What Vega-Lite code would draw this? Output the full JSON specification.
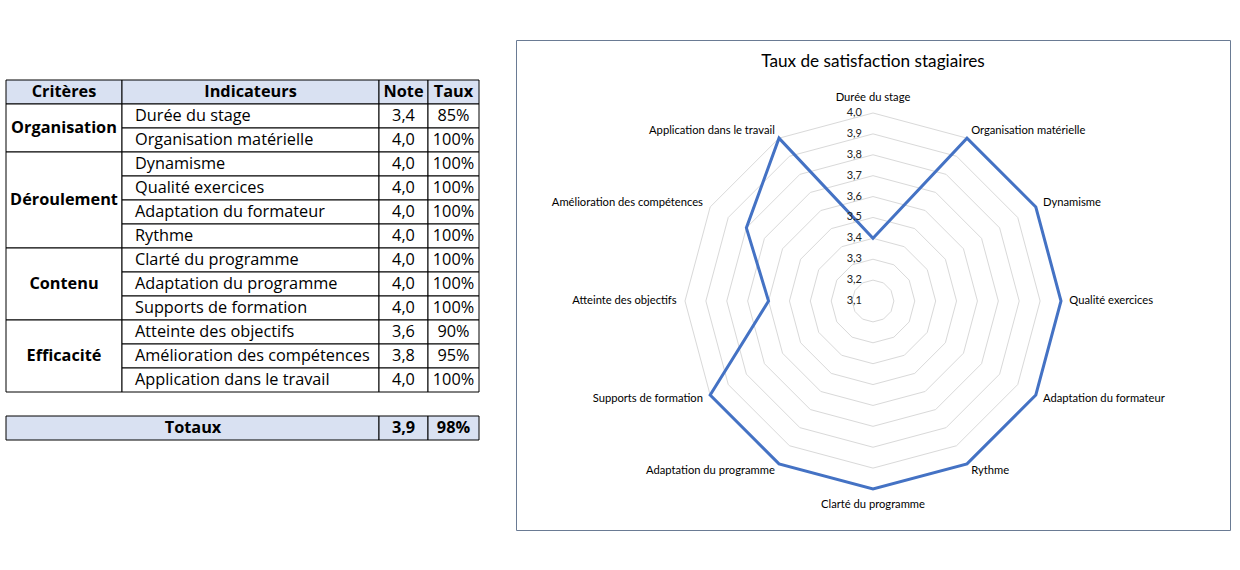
{
  "$schema": "https://vega.github.io/schema/vega-lite/v6.json",
  "background": "white",
  "padding": {"left": 5, "top": 39, "right": 5, "bottom": 30},
  "bounds": "flush",
  "spacing": 37,
  "datasets": {
    "notes": [
      {"rang": 0, "critere": "Organisation", "indicateur": "Durée du stage", "note": 3.4, "taux": 0.85},
      {"rang": 1, "critere": "Organisation", "indicateur": "Organisation matérielle", "note": 4.0, "taux": 1},
      {"rang": 2, "critere": "Déroulement", "indicateur": "Dynamisme", "note": 4.0, "taux": 1},
      {"rang": 3, "critere": "Déroulement", "indicateur": "Qualité exercices", "note": 4.0, "taux": 1},
      {"rang": 4, "critere": "Déroulement", "indicateur": "Adaptation du formateur", "note": 4.0, "taux": 1},
      {"rang": 5, "critere": "Déroulement", "indicateur": "Rythme", "note": 4.0, "taux": 1},
      {"rang": 6, "critere": "Contenu", "indicateur": "Clarté du programme", "note": 4.0, "taux": 1},
      {"rang": 7, "critere": "Contenu", "indicateur": "Adaptation du programme", "note": 4.0, "taux": 1},
      {"rang": 8, "critere": "Contenu", "indicateur": "Supports de formation", "note": 4.0, "taux": 1},
      {"rang": 9, "critere": "Efficacité", "indicateur": "Atteinte des objectifs", "note": 3.6, "taux": 0.9},
      {"rang": 10, "critere": "Efficacité", "indicateur": "Amélioration des compétences", "note": 3.8, "taux": 0.95},
      {"rang": 11, "critere": "Efficacité", "indicateur": "Application dans le travail", "note": 4.0, "taux": 1}
    ],
    "entetes": [
      {"col": 0, "texte": "Critères"},
      {"col": 1, "texte": "Indicateurs"},
      {"col": 2, "texte": "Note"},
      {"col": 3, "texte": "Taux"}
    ],
    "totaux": [{"texte": "Totaux", "note": 3.9, "taux": 0.98}],
    "echelle": [
      {"niveau": 3.1, "rangs": [0,1,2,3,4,5,6,7,8,9,10,11]},
      {"niveau": 3.2, "rangs": [0,1,2,3,4,5,6,7,8,9,10,11]},
      {"niveau": 3.3, "rangs": [0,1,2,3,4,5,6,7,8,9,10,11]},
      {"niveau": 3.4, "rangs": [0,1,2,3,4,5,6,7,8,9,10,11]},
      {"niveau": 3.5, "rangs": [0,1,2,3,4,5,6,7,8,9,10,11]},
      {"niveau": 3.6, "rangs": [0,1,2,3,4,5,6,7,8,9,10,11]},
      {"niveau": 3.7, "rangs": [0,1,2,3,4,5,6,7,8,9,10,11]},
      {"niveau": 3.8, "rangs": [0,1,2,3,4,5,6,7,8,9,10,11]},
      {"niveau": 3.9, "rangs": [0,1,2,3,4,5,6,7,8,9,10,11]},
      {"niveau": 4.0, "rangs": [0,1,2,3,4,5,6,7,8,9,10,11]}
    ]
  },
  "hconcat": [
    {
      "width": 473,
      "height": 490,
      "layer": [
        {
          "data": {"name": "entetes"},
          "transform": [{"calculate": "datum.col + 1", "as": "c1"}],
          "mark": {"type": "rect", "fill": "#D9E1F2", "stroke": "#000", "strokeWidth": 1},
          "encoding": {
            "x": {"field": "col", "type": "quantitative", "scale": {"domain": [0, 1, 2, 3, 4], "range": [0, 116, 373, 422, 473], "nice": false, "zero": false}, "axis": null},
            "x2": {"field": "c1"},
            "y": {"datum": 0, "type": "quantitative", "scale": {"domain": [0, 15], "range": [40, 400], "nice": false, "zero": false}, "axis": null},
            "y2": {"datum": 1}
          }
        },
        {
          "data": {"name": "entetes"},
          "transform": [{"calculate": "datum.col + 0.5", "as": "cm"}],
          "mark": {"type": "text", "font": "Open Sans", "fontSize": 16.3, "fontWeight": "bold", "color": "#000", "align": "center", "baseline": "middle"},
          "encoding": {
            "x": {"field": "cm", "type": "quantitative"},
            "y": {"datum": 0.5, "type": "quantitative"},
            "text": {"field": "texte"}
          }
        },
        {
          "data": {"name": "notes"},
          "transform": [
            {"aggregate": [{"op": "min", "field": "rang", "as": "rmin"}, {"op": "max", "field": "rang", "as": "rmax"}], "groupby": ["critere"]},
            {"calculate": "datum.rmin + 1", "as": "r0"},
            {"calculate": "datum.rmax + 2", "as": "r1"},
            {"calculate": "(datum.r0 + datum.r1) / 2", "as": "rm"}
          ],
          "layer": [
            {
              "mark": {"type": "rect", "fill": "white", "stroke": "#000", "strokeWidth": 1},
              "encoding": {
                "x": {"datum": 0, "type": "quantitative"},
                "x2": {"datum": 1},
                "y": {"field": "r0", "type": "quantitative"},
                "y2": {"field": "r1"}
              }
            },
            {
              "mark": {"type": "text", "font": "Open Sans", "fontSize": 16.3, "fontWeight": "bold", "color": "#000", "align": "center", "baseline": "middle"},
              "encoding": {
                "x": {"datum": 0.5, "type": "quantitative"},
                "y": {"field": "rm", "type": "quantitative"},
                "text": {"field": "critere"}
              }
            }
          ]
        },
        {
          "data": {"name": "notes"},
          "transform": [
            {"calculate": "datum.rang + 1", "as": "r0"},
            {"calculate": "datum.rang + 2", "as": "r1"},
            {"calculate": "datum.rang + 1.5", "as": "rm"}
          ],
          "layer": [
            {
              "mark": {"type": "rect", "fill": "white", "stroke": "#000", "strokeWidth": 1},
              "encoding": {"x": {"datum": 1, "type": "quantitative"}, "x2": {"datum": 2}, "y": {"field": "r0", "type": "quantitative"}, "y2": {"field": "r1"}}
            },
            {
              "mark": {"type": "rect", "fill": "white", "stroke": "#000", "strokeWidth": 1},
              "encoding": {"x": {"datum": 2, "type": "quantitative"}, "x2": {"datum": 3}, "y": {"field": "r0", "type": "quantitative"}, "y2": {"field": "r1"}}
            },
            {
              "mark": {"type": "rect", "fill": "white", "stroke": "#000", "strokeWidth": 1},
              "encoding": {"x": {"datum": 3, "type": "quantitative"}, "x2": {"datum": 4}, "y": {"field": "r0", "type": "quantitative"}, "y2": {"field": "r1"}}
            },
            {
              "mark": {"type": "text", "font": "Open Sans", "fontSize": 16.3, "color": "#000", "align": "left", "baseline": "middle", "dx": 13},
              "encoding": {"x": {"datum": 1, "type": "quantitative"}, "y": {"field": "rm", "type": "quantitative"}, "text": {"field": "indicateur"}}
            },
            {
              "mark": {"type": "text", "font": "Open Sans", "fontSize": 16.3, "color": "#000", "align": "center", "baseline": "middle"},
              "encoding": {"x": {"datum": 2.5, "type": "quantitative"}, "y": {"field": "rm", "type": "quantitative"}, "text": {"field": "note", "format": ".1f"}}
            },
            {
              "mark": {"type": "text", "font": "Open Sans", "fontSize": 16.3, "color": "#000", "align": "center", "baseline": "middle"},
              "encoding": {"x": {"datum": 3.5, "type": "quantitative"}, "y": {"field": "rm", "type": "quantitative"}, "text": {"field": "taux", "format": ".0%"}}
            }
          ]
        },
        {
          "data": {"name": "totaux"},
          "layer": [
            {
              "mark": {"type": "rect", "fill": "#D9E1F2", "stroke": "#000", "strokeWidth": 1},
              "encoding": {"x": {"datum": 0, "type": "quantitative"}, "x2": {"datum": 2}, "y": {"datum": 14, "type": "quantitative"}, "y2": {"datum": 15}}
            },
            {
              "mark": {"type": "rect", "fill": "#D9E1F2", "stroke": "#000", "strokeWidth": 1},
              "encoding": {"x": {"datum": 2, "type": "quantitative"}, "x2": {"datum": 3}, "y": {"datum": 14, "type": "quantitative"}, "y2": {"datum": 15}}
            },
            {
              "mark": {"type": "rect", "fill": "#D9E1F2", "stroke": "#000", "strokeWidth": 1},
              "encoding": {"x": {"datum": 3, "type": "quantitative"}, "x2": {"datum": 4}, "y": {"datum": 14, "type": "quantitative"}, "y2": {"datum": 15}}
            },
            {
              "mark": {"type": "text", "font": "Open Sans", "fontSize": 16.3, "fontWeight": "bold", "color": "#000", "align": "center", "baseline": "middle", "dx": 187},
              "encoding": {"x": {"datum": 0, "type": "quantitative"}, "y": {"datum": 14.5, "type": "quantitative"}, "text": {"field": "texte"}}
            },
            {
              "mark": {"type": "text", "font": "Open Sans", "fontSize": 16.3, "fontWeight": "bold", "color": "#000", "align": "center", "baseline": "middle"},
              "encoding": {"x": {"datum": 2.5, "type": "quantitative"}, "y": {"datum": 14.5, "type": "quantitative"}, "text": {"field": "note", "format": ".1f"}}
            },
            {
              "mark": {"type": "text", "font": "Open Sans", "fontSize": 16.3, "fontWeight": "bold", "color": "#000", "align": "center", "baseline": "middle"},
              "encoding": {"x": {"datum": 3.5, "type": "quantitative"}, "y": {"datum": 14.5, "type": "quantitative"}, "text": {"field": "taux", "format": ".0%"}}
            }
          ]
        }
      ]
    },
    {
      "width": 714,
      "height": 490,
      "view": {"stroke": "#6a7b94", "strokeWidth": 1},
      "title": {"text": "Taux de satisfaction stagiaires", "font": "Lato", "fontSize": 17.2, "fontWeight": "normal", "color": "#000", "anchor": "middle", "baseline": "middle", "offset": -39},
      "layer": [
        {
          "data": {"name": "echelle"},
          "transform": [
            {"filter": "datum.niveau > 3.15"},
            {"flatten": ["rangs"], "as": ["rang"]},
            {"calculate": "datum.rang * PI / 6", "as": "angle"},
            {"calculate": "(datum.niveau - 3.1) * sin(datum.angle)", "as": "px"},
            {"calculate": "(datum.niveau - 3.1) * cos(datum.angle)", "as": "py"}
          ],
          "mark": {"type": "line", "interpolate": "linear-closed", "color": "#d9d9d9", "strokeWidth": 1},
          "encoding": {
            "x": {"field": "px", "type": "quantitative", "scale": {"domain": [-1.709, 1.709], "nice": false, "zero": false}, "axis": null},
            "y": {"field": "py", "type": "quantitative", "scale": {"domain": [-1.0962, 1.2494], "nice": false, "zero": false}, "axis": null},
            "detail": {"field": "niveau", "type": "nominal"},
            "order": {"field": "rang", "type": "quantitative"}
          }
        },
        {
          "data": {"name": "notes"},
          "transform": [
            {"calculate": "datum.rang * PI / 6", "as": "angle"},
            {"calculate": "(datum.note - 3.1) * sin(datum.angle)", "as": "px"},
            {"calculate": "(datum.note - 3.1) * cos(datum.angle)", "as": "py"}
          ],
          "mark": {"type": "line", "interpolate": "linear-closed", "color": "#4472C4", "strokeWidth": 3},
          "encoding": {
            "x": {"field": "px", "type": "quantitative"},
            "y": {"field": "py", "type": "quantitative"},
            "order": {"field": "rang", "type": "quantitative"}
          }
        },
        {
          "data": {"name": "echelle"},
          "transform": [{"calculate": "datum.niveau - 3.1", "as": "py"}],
          "mark": {"type": "text", "font": "Lato", "fontSize": 11, "color": "#222", "align": "right", "baseline": "middle", "dx": -11},
          "encoding": {
            "x": {"datum": 0, "type": "quantitative"},
            "y": {"field": "py", "type": "quantitative"},
            "text": {"field": "niveau", "format": ".1f"}
          }
        },
        {
          "data": {"name": "notes"},
          "transform": [
            {"calculate": "datum.rang * PI / 6", "as": "angle"},
            {"calculate": "0.94 * sin(datum.angle)", "as": "px"},
            {"calculate": "0.94 * cos(datum.angle)", "as": "py"}
          ],
          "layer": [
            {
              "transform": [{"filter": "datum.rang == 0"}],
              "mark": {"type": "text", "font": "Lato", "fontSize": 11.2, "color": "#000", "align": "center", "baseline": "bottom", "dy": -2},
              "encoding": {"x": {"field": "px", "type": "quantitative"}, "y": {"field": "py", "type": "quantitative"}, "text": {"field": "indicateur"}}
            },
            {
              "transform": [{"filter": "datum.rang == 6"}],
              "mark": {"type": "text", "font": "Lato", "fontSize": 11.2, "color": "#000", "align": "center", "baseline": "top", "dy": 2},
              "encoding": {"x": {"field": "px", "type": "quantitative"}, "y": {"field": "py", "type": "quantitative"}, "text": {"field": "indicateur"}}
            },
            {
              "transform": [{"filter": "datum.rang > 0 && datum.rang < 6"}],
              "mark": {"type": "text", "font": "Lato", "fontSize": 11.2, "color": "#000", "align": "left", "baseline": "middle"},
              "encoding": {"x": {"field": "px", "type": "quantitative"}, "y": {"field": "py", "type": "quantitative"}, "text": {"field": "indicateur"}}
            },
            {
              "transform": [{"filter": "datum.rang > 6"}],
              "mark": {"type": "text", "font": "Lato", "fontSize": 11.2, "color": "#000", "align": "right", "baseline": "middle"},
              "encoding": {"x": {"field": "px", "type": "quantitative"}, "y": {"field": "py", "type": "quantitative"}, "text": {"field": "indicateur"}}
            }
          ]
        }
      ]
    }
  ],
  "config": {
    "view": {"stroke": null},
    "locale": {"number": {"decimal": ",", "thousands": " ", "grouping": [3], "currency": ["", " €"]}}
  }
}
